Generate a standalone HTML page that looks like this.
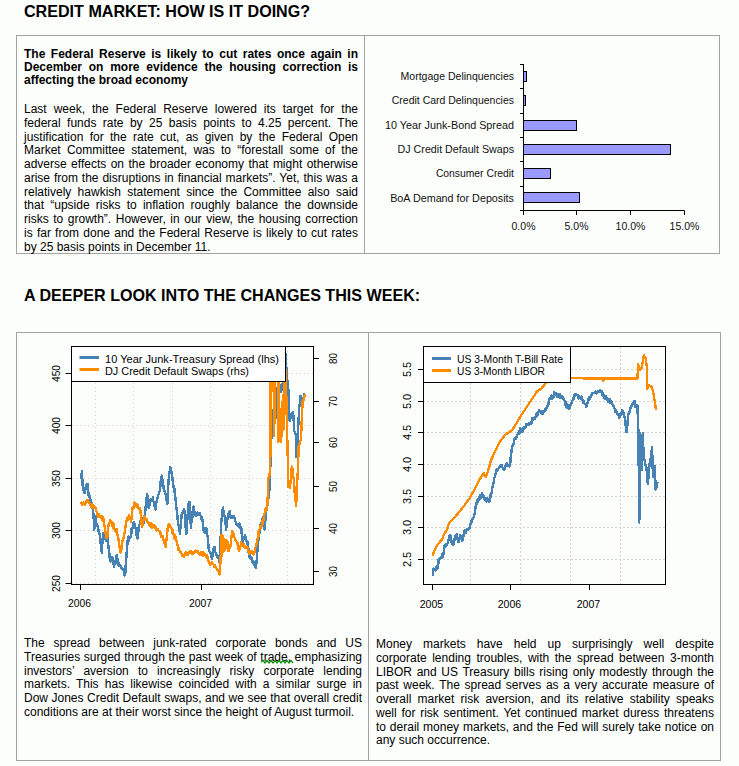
<!DOCTYPE html>
<html><head><meta charset="utf-8">
<style>
html,body{margin:0;padding:0;}
body{width:739px;height:766px;background:#fcfefc;position:relative;overflow:hidden;font-family:"Liberation Sans",sans-serif;color:#000;}
.abs{position:absolute;}
.h1{position:absolute;font-weight:bold;font-size:16.1px;white-space:nowrap;line-height:20px;}
.box{position:absolute;border:1px solid #a3a3a3;box-sizing:border-box;}
.vl{position:absolute;width:1px;background:#a3a3a3;}
.para{position:absolute;font-size:12px;}
.para div{height:13.75px;line-height:13.75px;text-align:justify;text-align-last:justify;white-space:nowrap;}
.para div.last{text-align-last:left;}
.bold div{font-weight:bold;height:13.3px;line-height:13.3px;}
svg text{font-family:"Liberation Sans",sans-serif;}
</style></head><body>
<div class="h1" style="left:24px;top:1px;">CREDIT MARKET: HOW IS IT DOING?</div>
<div class="box" style="left:16px;top:35px;width:704px;height:219px;"></div>
<div class="vl" style="left:364px;top:35px;height:219px;"></div>

<div class="para bold" style="left:24px;top:47.5px;width:334px;">
<div>The Federal Reserve is likely to cut rates once again in</div>
<div>December on more evidence the housing correction is</div>
<div class="last">affecting the broad economy</div>
</div>

<div class="para" style="left:24px;top:103px;width:334px;">
<div>Last week, the Federal Reserve lowered its target for the</div>
<div>federal funds rate by 25 basis points to 4.25 percent. The</div>
<div>justification for the rate cut, as given by the Federal Open</div>
<div>Market Committee statement, was to “forestall some of the</div>
<div>adverse effects on the broader economy that might otherwise</div>
<div>arise from the disruptions in financial markets”. Yet, this was a</div>
<div>relatively hawkish statement since the Committee also said</div>
<div>that “upside risks to inflation roughly balance the downside</div>
<div>risks to growth”. However, in our view, the housing correction</div>
<div>is far from done and the Federal Reserve is likely to cut rates</div>
<div class="last">by 25 basis points in December 11.</div>
</div>

<div class="h1" style="left:24px;top:285px;">A DEEPER LOOK INTO THE CHANGES THIS WEEK:</div>
<div class="box" style="left:16px;top:332px;width:705px;height:429px;"></div>
<div class="vl" style="left:368px;top:332px;height:429px;"></div>

<div class="para" style="left:24px;top:637px;width:338px;">
<div>The spread between junk-rated corporate bonds and US</div>
<div>Treasuries surged through the past week of trade, emphasizing</div>
<div>investors’ aversion to increasingly risky corporate lending</div>
<div>markets. This has likewise coincided with a similar surge in</div>
<div>Dow Jones Credit Default swaps, and we see that overall credit</div>
<div class="last">conditions are at their worst since the height of August turmoil.</div>
</div>

<div class="para" style="left:376px;top:638px;width:338px;">
<div>Money markets have held up surprisingly well despite</div>
<div>corporate lending troubles, with the spread between 3-month</div>
<div>LIBOR and US Treasury bills rising only modestly through the</div>
<div>past week. The spread serves as a very accurate measure of</div>
<div>overall market risk aversion, and its relative stability speaks</div>
<div>well for risk sentiment. Yet continued market duress threatens</div>
<div>to derail money markets, and the Fed will surely take notice on</div>
<div class="last">any such occurrence.</div>
</div>

<svg class="abs" style="left:0;top:0" width="739" height="766" viewBox="0 0 739 766">
<rect x="523.5" y="71.5" width="3.0" height="10" fill="#9999ff" stroke="#000" stroke-width="1"/>
<rect x="523.5" y="95.5" width="2.0" height="10" fill="#9999ff" stroke="#000" stroke-width="1"/>
<rect x="523.5" y="120.5" width="53.0" height="10" fill="#9999ff" stroke="#000" stroke-width="1"/>
<rect x="523.5" y="144.5" width="147.0" height="10" fill="#9999ff" stroke="#000" stroke-width="1"/>
<rect x="523.5" y="168.5" width="27.0" height="10" fill="#9999ff" stroke="#000" stroke-width="1"/>
<rect x="523.5" y="192.5" width="56.0" height="10" fill="#9999ff" stroke="#000" stroke-width="1"/>
<text x="400.6" y="79.8" font-size="10.5" fill="#111" textLength="113.4" lengthAdjust="spacingAndGlyphs">Mortgage Delinquencies</text>
<text x="391.8" y="104.2" font-size="10.5" fill="#111" textLength="122.2" lengthAdjust="spacingAndGlyphs">Credit Card Delinquencies</text>
<text x="384.9" y="128.6" font-size="10.5" fill="#111" textLength="129.1" lengthAdjust="spacingAndGlyphs">10 Year Junk-Bond Spread</text>
<text x="397.6" y="153.0" font-size="10.5" fill="#111" textLength="116.4" lengthAdjust="spacingAndGlyphs">DJ Credit Default Swaps</text>
<text x="435.9" y="177.4" font-size="10.5" fill="#111" textLength="78.1" lengthAdjust="spacingAndGlyphs">Consumer Credit</text>
<text x="390.2" y="201.8" font-size="10.5" fill="#111" textLength="123.8" lengthAdjust="spacingAndGlyphs">BoA Demand for Deposits</text>
<path d="M523.5 64 V210.5 H684.5" fill="none" stroke="#000" stroke-width="1"/>
<path d="M520 64.5 H523.5" stroke="#000" stroke-width="1"/>
<path d="M520 88.5 H523.5" stroke="#000" stroke-width="1"/>
<path d="M520 113.5 H523.5" stroke="#000" stroke-width="1"/>
<path d="M520 137.5 H523.5" stroke="#000" stroke-width="1"/>
<path d="M520 161.5 H523.5" stroke="#000" stroke-width="1"/>
<path d="M520 186.5 H523.5" stroke="#000" stroke-width="1"/>
<path d="M520 210.5 H523.5" stroke="#000" stroke-width="1"/>
<path d="M523.5 210.5 V215" stroke="#000" stroke-width="1"/>
<text x="523.5" y="229.5" font-size="10.5" text-anchor="middle" fill="#111">0.0%</text>
<path d="M576.5 210.5 V215" stroke="#000" stroke-width="1"/>
<text x="576.5" y="229.5" font-size="10.5" text-anchor="middle" fill="#111">5.0%</text>
<path d="M630.5 210.5 V215" stroke="#000" stroke-width="1"/>
<text x="630.5" y="229.5" font-size="10.5" text-anchor="middle" fill="#111">10.0%</text>
<path d="M684.5 210.5 V215" stroke="#000" stroke-width="1"/>
<text x="684.5" y="229.5" font-size="10.5" text-anchor="middle" fill="#111">15.0%</text>
<path d="M95.5 347 V584" stroke="#d3d3d3" stroke-width="1" stroke-dasharray="1,3"/>
<path d="M133.5 347 V584" stroke="#d3d3d3" stroke-width="1" stroke-dasharray="1,3"/>
<path d="M172.5 347 V584" stroke="#d3d3d3" stroke-width="1" stroke-dasharray="1,3"/>
<path d="M210.5 347 V584" stroke="#d3d3d3" stroke-width="1" stroke-dasharray="1,3"/>
<path d="M249.5 347 V584" stroke="#d3d3d3" stroke-width="1" stroke-dasharray="1,3"/>
<path d="M287.5 347 V584" stroke="#d3d3d3" stroke-width="1" stroke-dasharray="1,3"/>
<path d="M72 373.5 H313" stroke="#d3d3d3" stroke-width="1" stroke-dasharray="1,3"/>
<path d="M72 425.5 H313" stroke="#d3d3d3" stroke-width="1" stroke-dasharray="1,3"/>
<path d="M72 478.5 H313" stroke="#d3d3d3" stroke-width="1" stroke-dasharray="1,3"/>
<path d="M72 530.5 H313" stroke="#d3d3d3" stroke-width="1" stroke-dasharray="1,3"/>
<path d="M72 583.5 H313" stroke="#d3d3d3" stroke-width="1" stroke-dasharray="1,3"/>
<polyline points="80.9,478.8 81.4,476.2 81.9,471.1 82.3,479.1 82.8,487.3 83.4,487.6 83.9,492.2 84.5,493.2 85.1,491.1 85.6,488.9 86.2,487.3 86.6,484.7 87.1,485.2 87.5,483.9 88.1,489.7 88.7,495.7 89.3,497.4 89.8,496.2 90.4,500.0 90.9,500.2 91.4,502.7 92.0,507.9 92.5,504.7 93.0,506.0 93.4,514.8 93.9,521.7 94.3,529.7 94.9,521.5 95.5,516.0 95.9,521.9 96.3,522.9 96.9,525.8 97.4,525.5 98.0,528.0 98.6,531.1 99.1,532.7 99.7,534.8 100.2,538.8 100.8,544.4 101.3,548.8 101.8,552.6 102.2,545.3 102.7,538.2 103.1,533.0 103.6,535.4 104.1,536.7 104.7,537.4 105.2,539.5 105.7,539.9 106.3,540.7 106.8,536.8 107.4,534.8 107.9,540.1 108.4,546.0 108.9,550.3 109.4,554.1 109.9,560.3 110.4,561.4 110.9,558.0 111.4,559.3 111.9,559.0 112.4,556.9 113.0,560.6 113.5,564.3 114.1,567.0 114.6,561.6 115.1,563.3 115.7,562.9 116.2,558.9 116.7,555.2 117.2,557.4 117.7,561.3 118.2,561.2 118.7,565.8 119.2,565.4 119.7,565.0 120.2,565.6 120.7,566.2 121.1,568.1 121.6,567.4 122.1,569.3 122.6,568.8 123.1,569.4 123.6,570.9 124.2,570.6 124.7,575.6 125.2,574.7 125.7,564.9 126.3,558.5 126.8,550.1 127.4,544.6 127.9,537.9 128.5,536.5 129.0,541.0 129.5,538.0 130.1,537.2 130.6,536.3 131.1,536.5 131.7,528.1 132.2,528.7 132.7,528.2 133.2,523.5 133.7,522.0 134.2,523.0 134.8,524.4 135.3,526.6 135.9,529.8 136.5,533.5 137.0,538.1 137.6,538.3 138.2,533.6 138.7,527.5 139.3,524.7 139.8,523.7 140.3,521.0 140.9,520.7 141.4,518.8 141.9,517.9 142.5,519.6 143.0,521.5 143.6,523.0 144.2,519.8 144.7,516.7 145.3,511.1 145.8,504.5 146.4,501.5 146.9,494.1 147.5,495.9 148.0,504.1 148.6,507.7 149.1,507.7 149.6,502.8 150.2,502.9 150.7,499.2 151.2,500.9 151.8,500.1 152.3,498.9 152.9,497.5 153.4,501.3 153.9,502.1 154.4,504.9 154.9,507.2 155.4,509.4 156.0,504.4 156.5,501.8 157.1,499.2 157.6,498.0 158.1,495.0 158.7,494.4 159.2,492.7 159.7,490.7 160.2,488.1 160.8,480.0 161.3,479.0 161.9,475.5 162.4,479.4 162.9,482.9 163.4,486.1 163.9,490.7 164.5,490.3 165.0,491.3 165.6,494.1 166.2,498.0 166.7,500.6 167.3,504.3 167.9,495.7 168.4,483.1 169.0,475.5 169.6,472.4 170.2,467.0 170.8,469.0 171.3,471.4 171.8,474.2 172.4,477.2 172.9,482.9 173.4,486.7 173.9,485.6 174.4,489.0 174.9,494.8 175.5,498.3 176.1,505.5 176.6,509.4 177.2,514.2 177.7,519.6 178.3,524.7 178.9,527.0 179.4,529.7 180.0,534.0 180.6,525.4 181.1,520.8 181.7,514.5 182.2,513.3 182.7,512.7 183.2,513.0 183.7,509.9 184.2,509.4 184.7,514.2 185.2,521.2 185.8,529.0 186.3,534.0 186.9,528.1 187.4,518.8 187.9,510.9 188.5,504.3 189.0,502.7 189.5,501.8 190.0,510.1 190.4,517.1 190.9,527.6 191.4,522.3 191.8,519.3 192.3,518.4 192.7,510.8 193.2,507.6 193.7,506.7 194.2,509.8 194.6,512.7 195.1,514.9 195.6,515.9 196.1,515.6 196.5,515.6 197.0,513.7 197.4,512.4 197.9,512.9 198.4,514.3 198.9,513.6 199.3,514.8 199.8,513.0 200.3,514.7 200.8,516.4 201.2,518.8 201.7,517.2 202.1,518.2 202.6,520.6 203.2,526.4 203.8,531.1 204.3,529.2 204.7,532.4 205.2,529.9 205.6,532.9 206.1,527.6 206.6,529.9 207.0,532.9 207.4,535.3 207.9,537.0 208.5,547.6 209.1,550.3 209.6,551.6 210.2,552.3 210.6,553.9 211.1,553.6 211.6,557.5 212.0,559.3 212.4,556.7 212.9,553.7 213.4,549.0 213.8,547.6 214.3,551.1 214.7,547.1 215.2,552.3 215.6,552.9 216.1,554.6 216.6,554.5 217.0,557.1 217.4,555.0 217.9,557.0 218.5,558.2 219.0,558.5 219.6,562.9 220.1,552.6 220.5,542.5 220.9,530.9 221.4,520.6 222.0,515.5 222.5,509.5 223.1,507.6 223.6,512.6 224.0,512.6 224.4,515.4 224.9,518.2 225.5,521.8 226.1,530.0 226.7,524.0 227.2,520.6 227.8,517.0 228.2,515.1 228.7,513.3 229.2,513.9 229.6,511.2 230.1,513.3 230.5,517.8 230.9,515.9 231.4,518.2 232.0,516.2 232.5,516.4 233.1,515.9 233.6,517.0 234.1,516.6 234.5,518.0 235.0,520.5 235.5,521.7 236.1,522.5 236.6,524.5 237.2,525.3 237.7,524.6 238.2,526.4 238.6,524.2 239.1,524.0 239.6,523.5 240.2,527.7 240.7,527.1 241.3,527.6 241.9,536.0 242.5,542.9 243.0,539.6 243.5,539.4 244.1,537.5 244.6,537.4 245.1,535.0 245.6,536.8 246.1,539.1 246.6,541.7 247.2,544.1 247.7,542.0 248.2,546.0 248.6,551.1 249.1,557.0 249.6,557.4 250.2,555.0 250.7,558.1 251.2,558.9 251.7,558.2 252.3,562.5 252.8,560.7 253.3,561.1 253.7,562.7 254.2,562.0 254.7,565.5 255.2,564.9 255.6,567.2 256.1,568.0 256.5,560.3 257.0,559.0 257.4,549.7 257.9,545.7 258.5,539.2 259.0,535.9 259.6,533.0 260.1,527.8 260.6,524.8 261.2,523.4 261.7,524.8 262.3,521.3 262.8,516.8 263.3,521.4 263.8,522.8 264.2,526.0 264.7,529.6 265.1,522.8 265.6,519.0 266.1,513.5 266.5,509.5 267.0,507.1 267.6,503.9 268.1,501.3 268.7,496.0 269.2,494.8 269.6,483.0 270.1,472.9 270.7,455.3 271.3,440.0 271.8,419.9 272.4,416.7 272.9,410.5 273.4,414.1 273.9,419.9 274.4,418.1 274.9,418.5 275.5,418.2 276.0,417.2 276.5,417.8 277.1,403.1 277.6,387.5 278.1,384.7 278.6,385.8 279.2,385.9 279.7,384.4 280.2,387.3 280.7,388.8 281.2,391.7 281.7,389.8 282.3,384.7 282.8,382.3 283.3,381.3 283.8,381.4 284.4,378.3 284.9,379.0 285.4,376.0 285.9,376.0 286.0,354.0 286.5,374.0 287.0,376.5 287.5,382.8 288.0,387.7 288.5,389.6 289.1,406.8 289.6,420.9 290.1,420.3 290.7,415.6 291.2,413.6 291.7,413.8 292.2,413.4 292.7,412.6 293.2,412.6 293.8,422.9 294.3,431.4 294.8,431.6 295.4,433.9 295.9,434.5 296.3,456.8 296.9,449.9 297.4,444.9 297.9,431.8 298.5,422.0 299.0,410.5 299.5,404.9 300.1,401.6 300.6,395.8 301.1,399.6 301.6,398.4 302.1,403.2 302.6,401.2 303.1,400.8 303.6,398.8 304.0,393.7 304.5,395.7 305.0,394.9" fill="none" stroke="#4682b4" stroke-width="2.4" stroke-linejoin="round" shape-rendering="crispEdges"/>
<polyline points="80.9,501.7 81.4,503.0 81.9,505.0 82.4,504.2 82.9,503.0 83.5,502.7 84.0,503.7 84.5,504.2 85.0,505.3 85.5,503.7 86.0,501.4 86.5,502.5 87.0,500.8 87.5,500.0 88.0,500.4 88.5,502.4 89.0,503.0 89.4,503.5 89.9,504.3 90.4,504.2 90.9,506.7 91.4,503.8 92.0,506.1 92.5,504.4 93.0,506.0 93.5,508.2 94.0,506.4 94.5,506.2 95.0,508.2 95.5,507.6 96.1,510.8 96.6,511.7 97.2,515.3 97.7,515.7 98.2,516.9 98.7,513.9 99.1,517.2 99.6,517.2 100.1,517.0 100.6,516.1 101.1,517.5 101.6,518.3 102.1,520.0 102.5,516.7 103.0,521.4 103.5,518.7 104.0,522.9 104.5,525.9 105.0,526.2 105.5,533.1 106.0,535.2 106.5,538.2 107.0,535.6 107.5,536.7 108.0,528.5 108.5,525.7 109.0,522.9 109.6,523.2 110.1,520.2 110.7,521.2 111.2,521.5 111.7,522.0 112.2,525.9 112.6,523.6 113.1,527.9 113.6,523.6 114.1,526.3 114.6,529.3 115.1,530.7 115.6,529.1 116.0,531.6 116.5,529.0 117.0,535.0 117.5,534.8 118.0,535.4 118.5,539.3 119.0,544.1 119.4,545.0 119.9,548.9 120.4,552.6 120.9,548.9 121.4,550.1 122.0,543.7 122.5,540.8 123.0,540.1 123.5,538.2 124.0,535.1 124.4,534.0 124.9,531.3 125.4,527.1 125.9,523.6 126.3,522.2 126.8,519.5 127.3,518.1 127.8,520.0 128.4,517.6 128.9,514.9 129.4,516.1 130.0,518.3 130.5,519.3 131.1,522.0 131.6,517.3 132.0,513.6 132.5,507.7 133.0,508.2 133.5,506.6 134.1,508.0 134.6,502.3 135.1,503.5 135.6,504.0 136.1,505.9 136.6,506.5 137.1,503.6 137.6,506.0 138.1,505.0 138.6,509.0 139.2,507.8 139.7,508.2 140.2,509.4 140.8,514.1 141.3,521.3 141.9,527.2 142.4,525.4 142.9,523.2 143.4,519.6 143.9,520.0 144.4,516.2 144.9,518.5 145.4,519.6 145.9,520.2 146.4,518.8 146.9,521.3 147.4,522.7 147.9,522.6 148.4,522.0 148.8,523.5 149.3,524.7 149.8,525.8 150.3,524.7 150.8,526.4 151.3,523.0 151.7,525.6 152.2,527.7 152.7,526.2 153.2,525.4 153.6,526.1 154.1,525.5 154.6,525.5 155.1,527.4 155.6,528.4 156.1,526.7 156.6,530.5 157.1,529.8 157.6,529.3 158.1,529.7 158.6,530.4 159.0,530.8 159.5,530.9 160.0,533.5 160.5,533.2 161.0,532.7 161.5,537.1 162.1,535.7 162.6,536.1 163.1,538.3 163.6,540.6 164.1,541.9 164.6,543.8 165.1,545.3 165.6,546.8 166.1,540.1 166.6,540.0 167.1,533.0 167.6,529.4 168.1,524.7 168.6,525.3 169.1,524.3 169.7,525.1 170.2,526.4 170.7,527.2 171.2,527.8 171.7,528.5 172.2,533.3 172.6,530.0 173.1,531.6 173.6,534.7 174.1,534.9 174.6,538.9 175.1,534.8 175.6,538.4 176.0,540.8 176.5,541.0 177.0,542.5 177.5,545.1 178.0,547.6 178.5,549.9 179.0,548.5 179.5,550.5 180.0,551.9 180.5,551.4 181.0,552.5 181.5,553.3 181.9,555.4 182.4,556.1 182.9,555.5 183.4,556.1 183.9,556.5 184.4,556.1 184.9,554.2 185.3,553.2 185.8,555.3 186.3,551.9 186.8,552.7 187.3,553.5 187.8,555.0 188.3,552.6 188.8,553.0 189.3,553.1 189.8,551.0 190.3,551.1 190.8,550.8 191.3,553.5 191.8,552.2 192.2,554.2 192.7,553.0 193.2,554.0 193.7,552.1 194.2,552.2 194.7,551.2 195.2,552.1 195.7,550.7 196.2,551.4 196.7,551.1 197.2,552.3 197.7,550.9 198.2,552.2 198.8,554.0 199.3,553.2 199.8,554.3 200.3,554.6 200.8,552.1 201.3,552.7 201.8,554.9 202.4,555.0 202.9,556.0 203.4,552.0 203.9,555.5 204.4,554.0 204.9,553.6 205.4,554.5 205.9,556.5 206.3,555.7 206.8,555.2 207.3,555.8 207.9,560.1 208.5,561.7 209.0,561.1 209.4,563.2 209.9,565.0 210.3,564.0 210.8,562.9 211.3,562.6 211.8,564.1 212.2,562.5 212.7,564.0 213.2,564.0 213.7,565.0 214.1,566.7 214.6,566.8 215.0,564.8 215.5,567.6 216.0,567.1 216.5,568.4 216.9,569.5 217.4,569.7 217.9,569.9 218.5,570.9 219.0,572.6 219.6,574.6 220.2,565.7 220.8,554.6 221.5,535.0 222.1,556.0 222.7,536.0 223.3,552.0 223.9,539.0 224.5,550.0 225.1,541.0 225.7,548.0 226.3,540.0 227.0,547.0 227.6,542.0 228.3,551.0 229.0,551.1 229.4,548.2 229.9,546.1 230.4,546.2 230.8,542.9 231.4,537.5 231.9,534.4 232.5,531.1 232.9,533.4 233.4,533.2 233.9,535.9 234.3,537.0 234.8,538.1 235.2,539.5 235.7,540.3 236.1,540.6 236.6,541.7 237.1,543.6 237.6,542.8 238.0,548.4 238.5,549.0 239.0,551.1 239.6,548.3 240.1,545.9 240.7,545.2 241.2,542.2 241.7,545.1 242.2,545.9 242.7,544.2 243.2,544.0 243.8,543.7 244.3,546.5 244.8,547.6 245.3,546.1 245.9,547.6 246.4,547.9 246.9,547.0 247.4,547.7 247.9,550.0 248.5,551.0 249.0,553.6 249.5,552.6 250.0,551.5 250.5,552.4 251.1,553.1 251.6,552.5 252.1,551.6 252.6,554.1 253.2,553.4 253.7,554.3 254.2,552.0 254.8,551.8 255.3,548.0 255.9,546.8 256.4,544.2 256.9,542.3 257.3,539.9 257.8,537.8 258.3,537.0 258.7,531.2 259.2,529.6 259.7,529.5 260.3,525.7 260.8,528.4 261.4,526.8 261.9,525.9 262.4,524.6 262.8,518.9 263.3,520.6 263.8,518.2 264.2,513.9 264.7,513.1 265.2,511.1 265.8,507.8 266.3,510.5 266.9,506.1 267.4,504.0 267.9,493.9 268.3,478.4 268.8,477.4 269.2,476.3 269.7,472.8 270.1,471.1 270.6,376.0 271.0,456.0 271.4,376.0 271.9,376.6 272.4,375.1 272.8,373.4 273.3,375.9 273.8,376.0 274.2,436.0 274.8,376.0 275.3,373.7 275.8,377.1 276.4,375.3 276.9,375.4 277.4,374.2 277.9,376.0 278.4,442.0 279.0,380.0 279.6,440.0 280.0,425.7 280.4,410.0 281.0,442.0 281.6,408.0 282.2,436.0 282.8,395.0 283.4,430.0 284.0,375.0 284.6,384.1 285.2,395.0 285.9,370.0 286.5,407.3 287.0,426.1 287.5,447.7 288.0,466.8 288.5,487.0 289.0,486.4 289.6,487.8 290.1,486.6 290.7,480.4 291.2,475.2 291.8,466.5 292.4,468.0 292.9,473.5 293.4,477.5 294.0,480.3 294.5,489.5 295.0,499.0 295.6,500.7 296.1,505.5 296.6,496.9 297.0,487.7 297.4,478.4 297.9,469.3 298.3,457.6 298.7,445.8 299.2,445.7 299.6,443.7 300.1,442.4 300.5,440.4 301.0,439.6 301.5,426.2 302.1,411.5 302.6,402.0 303.1,400.1 303.6,400.7 304.0,397.0 304.5,396.1 305.0,394.0" fill="none" stroke="#ff8c00" stroke-width="2.4" stroke-linejoin="round" shape-rendering="crispEdges"/>
<rect x="71.5" y="346.5" width="214" height="35" fill="#fff" stroke="#000" stroke-width="1"/>
<path d="M79.5 357.5 H99" stroke="#4682b4" stroke-width="3"/>
<path d="M79.5 369.5 H99" stroke="#ff8c00" stroke-width="3"/>
<text x="105" y="363" font-size="11" textLength="174" lengthAdjust="spacingAndGlyphs">10 Year Junk-Treasury Spread (lhs)</text>
<text x="105" y="375" font-size="11" textLength="144" lengthAdjust="spacingAndGlyphs">DJ Credit Default Swaps (rhs)</text>
<rect x="71.5" y="346.5" width="242" height="238" fill="none" stroke="#000" stroke-width="1"/>
<path d="M65.5 373.5 H71.5" stroke="#000" stroke-width="1"/>
<text transform="translate(59.5 373.5) rotate(-90)" font-size="11" text-anchor="middle" textLength="17" lengthAdjust="spacingAndGlyphs">450</text>
<path d="M65.5 425.5 H71.5" stroke="#000" stroke-width="1"/>
<text transform="translate(59.5 425.5) rotate(-90)" font-size="11" text-anchor="middle" textLength="17" lengthAdjust="spacingAndGlyphs">400</text>
<path d="M65.5 478.5 H71.5" stroke="#000" stroke-width="1"/>
<text transform="translate(59.5 478.5) rotate(-90)" font-size="11" text-anchor="middle" textLength="17" lengthAdjust="spacingAndGlyphs">350</text>
<path d="M65.5 530.5 H71.5" stroke="#000" stroke-width="1"/>
<text transform="translate(59.5 530.5) rotate(-90)" font-size="11" text-anchor="middle" textLength="17" lengthAdjust="spacingAndGlyphs">300</text>
<path d="M65.5 583.5 H71.5" stroke="#000" stroke-width="1"/>
<text transform="translate(59.5 583.5) rotate(-90)" font-size="11" text-anchor="middle" textLength="17" lengthAdjust="spacingAndGlyphs">250</text>
<path d="M313.5 358.5 H319" stroke="#000" stroke-width="1"/>
<text transform="translate(337 358.5) rotate(-90)" font-size="11" text-anchor="middle" textLength="11" lengthAdjust="spacingAndGlyphs">80</text>
<path d="M313.5 401.5 H319" stroke="#000" stroke-width="1"/>
<text transform="translate(337 401.5) rotate(-90)" font-size="11" text-anchor="middle" textLength="11" lengthAdjust="spacingAndGlyphs">70</text>
<path d="M313.5 442.5 H319" stroke="#000" stroke-width="1"/>
<text transform="translate(337 442.5) rotate(-90)" font-size="11" text-anchor="middle" textLength="11" lengthAdjust="spacingAndGlyphs">60</text>
<path d="M313.5 486.5 H319" stroke="#000" stroke-width="1"/>
<text transform="translate(337 486.5) rotate(-90)" font-size="11" text-anchor="middle" textLength="11" lengthAdjust="spacingAndGlyphs">50</text>
<path d="M313.5 528.5 H319" stroke="#000" stroke-width="1"/>
<text transform="translate(337 528.5) rotate(-90)" font-size="11" text-anchor="middle" textLength="11" lengthAdjust="spacingAndGlyphs">40</text>
<path d="M313.5 571.5 H319" stroke="#000" stroke-width="1"/>
<text transform="translate(337 571.5) rotate(-90)" font-size="11" text-anchor="middle" textLength="11" lengthAdjust="spacingAndGlyphs">30</text>
<path d="M80.5 584.5 V590" stroke="#000" stroke-width="1"/>
<text x="79.5" y="607" font-size="11" text-anchor="middle" textLength="23" lengthAdjust="spacingAndGlyphs">2006</text>
<path d="M201.5 584.5 V590" stroke="#000" stroke-width="1"/>
<text x="200.5" y="607" font-size="11" text-anchor="middle" textLength="23" lengthAdjust="spacingAndGlyphs">2007</text>
<path d="M470.5 347 V584" stroke="#d3d3d3" stroke-width="1" stroke-dasharray="2,2"/>
<path d="M520.5 347 V584" stroke="#d3d3d3" stroke-width="1" stroke-dasharray="2,2"/>
<path d="M570.5 347 V584" stroke="#d3d3d3" stroke-width="1" stroke-dasharray="2,2"/>
<path d="M620.5 347 V584" stroke="#d3d3d3" stroke-width="1" stroke-dasharray="2,2"/>
<path d="M423 369.5 H665" stroke="#d3d3d3" stroke-width="1" stroke-dasharray="2,2"/>
<path d="M423 401.5 H665" stroke="#d3d3d3" stroke-width="1" stroke-dasharray="2,2"/>
<path d="M423 432.5 H665" stroke="#d3d3d3" stroke-width="1" stroke-dasharray="2,2"/>
<path d="M423 464.5 H665" stroke="#d3d3d3" stroke-width="1" stroke-dasharray="2,2"/>
<path d="M423 496.5 H665" stroke="#d3d3d3" stroke-width="1" stroke-dasharray="2,2"/>
<path d="M423 527.5 H665" stroke="#d3d3d3" stroke-width="1" stroke-dasharray="2,2"/>
<path d="M423 559.5 H665" stroke="#d3d3d3" stroke-width="1" stroke-dasharray="2,2"/>
<polyline points="433.2,576.3 433.2,569.8 433.7,568.7 434.2,569.2 434.6,568.9 435.1,570.4 435.6,569.8 436.1,567.1 436.5,569.5 437.0,568.4 437.5,568.1 437.9,562.5 438.4,559.8 438.9,563.0 439.4,559.3 439.9,559.2 440.4,558.2 440.9,558.4 441.4,558.0 441.9,554.2 442.5,557.6 443.0,554.7 443.5,552.2 444.0,553.5 444.0,546.2 444.5,547.4 445.0,545.5 445.4,546.7 445.9,543.9 446.4,544.6 446.9,545.2 447.5,543.2 448.0,542.5 448.5,539.8 449.0,538.5 449.6,535.0 450.1,536.9 450.6,536.0 451.0,541.0 451.5,542.7 452.0,540.8 452.4,544.4 452.9,545.0 453.4,543.9 454.0,543.6 454.5,538.8 455.0,537.9 455.5,535.9 456.1,537.3 456.6,534.1 457.1,536.8 457.6,538.8 458.1,541.9 458.6,542.2 459.1,541.1 459.7,537.7 460.2,534.9 460.7,537.1 461.2,538.5 461.7,539.0 462.2,540.6 462.7,540.1 463.2,537.2 463.8,533.7 464.3,531.4 464.8,530.0 465.3,530.8 465.7,532.7 466.2,531.1 466.7,529.4 467.2,529.0 467.6,529.1 468.1,529.6 468.6,529.3 469.2,528.0 469.7,527.9 470.2,525.6 470.8,522.8 471.3,521.2 471.9,521.6 472.4,518.9 472.9,518.7 473.5,517.8 474.0,516.3 474.6,514.3 475.1,510.5 475.6,506.7 476.2,503.3 476.7,503.8 477.3,502.8 477.8,498.8 478.3,501.4 478.9,497.2 479.4,496.8 479.9,495.3 480.3,498.4 480.8,496.8 481.3,498.2 481.8,494.5 482.2,493.2 482.7,495.7 483.2,495.0 483.8,496.1 484.3,499.4 484.8,500.0 485.4,498.0 485.9,497.9 486.4,501.6 487.0,497.9 487.6,498.9 488.1,499.4 488.6,500.6 489.2,502.2 489.7,500.6 490.2,498.4 490.8,493.1 491.3,492.5 491.8,492.6 492.2,488.1 492.7,486.0 493.2,484.8 493.7,481.8 494.1,478.0 494.6,477.3 495.1,475.8 495.7,473.4 496.2,473.1 496.7,468.8 497.3,470.8 497.8,468.7 498.3,468.7 498.7,468.0 499.2,467.8 499.7,465.9 500.2,465.8 500.6,467.0 501.1,465.4 501.6,465.0 502.2,467.1 502.7,467.5 503.2,468.7 503.8,468.4 504.3,469.7 504.9,469.2 505.4,466.5 505.9,463.9 506.5,464.3 507.0,463.5 507.6,465.1 508.1,465.8 508.6,465.3 509.2,464.8 509.7,466.5 510.2,464.0 510.8,456.1 511.3,453.3 511.9,447.6 512.5,445.4 513.0,445.7 513.5,444.3 514.1,441.1 514.6,438.9 515.1,438.2 515.5,438.0 516.0,439.0 516.5,436.3 517.0,437.2 517.4,434.8 517.9,433.0 518.4,433.5 518.9,434.0 519.5,432.9 520.0,427.6 520.5,429.4 521.1,430.3 521.6,429.2 522.1,432.1 522.5,429.4 523.0,431.2 523.5,427.7 524.0,428.5 524.4,427.9 524.9,427.0 525.4,427.7 525.9,426.8 526.3,423.8 526.8,424.9 527.3,424.7 527.8,423.8 528.2,424.6 528.7,422.8 529.2,424.8 529.7,422.9 530.2,422.7 530.7,423.5 531.2,422.1 531.6,423.5 532.1,418.5 532.6,419.7 533.1,419.6 533.6,419.4 534.1,418.6 534.6,418.8 535.0,417.0 535.5,417.2 536.0,415.9 536.5,414.2 536.9,413.4 537.4,415.6 537.9,414.0 538.5,411.8 539.0,409.7 539.5,411.9 540.0,411.9 540.6,410.8 541.1,412.9 541.6,412.6 542.0,411.2 542.5,414.1 543.0,412.3 543.5,411.6 543.9,412.0 544.4,411.9 545.0,409.4 545.5,410.4 546.0,407.9 546.6,408.6 547.1,406.2 547.7,406.5 548.2,403.4 548.7,403.7 549.3,398.5 549.8,398.9 550.3,398.0 550.9,397.8 551.4,395.7 551.9,398.7 552.5,396.0 553.0,396.7 553.5,397.3 554.1,392.4 554.6,394.4 555.1,394.8 555.5,393.5 556.0,394.7 556.5,395.1 557.0,393.6 557.4,397.1 557.9,396.0 558.4,395.7 559.0,394.2 559.5,393.8 560.0,397.5 560.6,398.2 561.1,396.0 561.6,396.1 562.0,397.1 562.5,398.3 563.0,396.6 563.5,399.0 563.9,400.2 564.4,400.1 564.9,402.1 565.4,403.6 565.8,406.5 566.3,402.6 566.8,407.4 567.3,406.7 567.8,407.6 568.2,407.2 568.7,405.6 569.2,409.0 569.7,407.3 570.1,405.7 570.6,405.0 571.1,403.5 571.6,402.5 572.0,403.2 572.5,400.1 573.0,400.1 573.5,399.2 573.9,396.2 574.4,394.9 574.9,394.4 575.4,395.6 575.8,394.1 576.3,395.0 576.8,394.6 577.3,394.9 577.7,395.3 578.2,396.0 578.7,398.4 579.2,395.7 579.7,397.1 580.2,397.0 580.7,399.2 581.2,398.5 581.7,396.5 582.2,398.5 582.7,401.2 583.2,402.6 583.7,401.1 584.2,402.7 584.8,404.0 585.3,404.2 585.8,404.4 586.3,406.6 586.8,404.2 587.4,403.6 587.9,401.1 588.4,400.5 589.0,396.6 589.5,398.5 590.0,398.5 590.5,396.8 591.0,395.9 591.5,395.4 592.1,393.2 592.6,393.2 593.1,393.0 593.6,392.8 594.1,393.0 594.6,392.1 595.1,392.7 595.6,391.6 596.0,391.6 596.5,393.4 597.0,393.2 597.5,391.8 598.0,391.5 598.5,391.6 599.0,391.5 599.6,390.1 600.1,392.0 600.6,391.0 601.2,391.7 601.7,391.2 602.2,392.2 602.7,395.7 603.1,393.2 603.6,395.0 604.1,396.0 604.6,398.8 605.1,398.5 605.6,395.8 606.1,398.5 606.6,399.3 607.1,398.5 607.6,399.3 608.1,401.6 608.6,401.5 609.0,401.0 609.5,399.2 610.0,398.9 610.5,403.2 611.0,403.4 611.5,401.7 612.0,402.3 612.5,404.7 613.0,404.7 613.6,406.6 614.1,406.5 614.6,409.1 615.1,409.2 615.7,412.3 616.2,410.6 616.7,411.8 617.2,413.9 617.8,415.0 618.3,413.7 618.8,414.6 619.2,418.3 619.7,417.2 620.3,414.8 620.8,414.0 621.4,414.4 621.9,410.0 622.4,412.0 622.8,411.4 623.3,412.1 623.8,415.0 624.2,416.6 624.7,417.4 625.2,421.5 625.6,425.1 626.0,429.3 626.5,432.0 627.0,426.3 627.4,425.5 627.8,418.9 628.3,414.6 628.8,413.0 629.4,412.6 629.9,409.7 630.4,408.2 630.9,408.3 631.5,406.2 632.0,403.7 632.5,404.0 633.1,402.6 633.6,402.5 634.2,401.6 634.7,400.9 635.2,404.5 635.6,407.3 636.0,406.1 636.5,407.8 637.0,405.5 637.4,405.5 637.9,419.1 638.4,431.1 638.8,475.8 639.3,522.5 639.8,476.7 640.2,432.9 640.7,439.5 641.1,451.7 641.5,460.2 642.0,469.5 642.5,452.9 642.9,432.9 643.3,446.8 643.8,458.5 644.2,460.0 644.7,460.3 645.2,463.4 645.7,465.3 646.1,465.1 646.6,469.5 647.0,474.0 647.5,480.6 647.9,484.1 648.4,478.3 648.8,471.6 649.3,467.6 649.8,462.2 650.2,462.1 650.7,458.2 651.2,453.1 651.6,450.5 652.1,447.5 652.5,462.6 653.0,476.8 653.5,474.0 653.9,473.5 654.3,470.3 654.8,465.8 655.2,477.4 655.7,489.6 656.2,488.4 656.6,487.0 657.0,484.9 657.5,482.3" fill="none" stroke="#4682b4" stroke-width="2.4" stroke-linejoin="round" shape-rendering="crispEdges"/>
<polyline points="433.2,556 433.4,552.7 437.5,544.6 442.4,538.9 444,534.1 446.8,530 449.1,522.8 454.5,517.4 460,510.9 464.3,505.5 469.7,497.9 474,490.3 479.4,479.5 483.8,473 485.9,477.3 488.1,470.8 491.3,459.5 496.8,447.6 501.1,440 505.4,434.6 511.9,430.3 516.2,423.8 520.6,416.2 524.9,409.7 529.2,403.2 533.6,396.7 536.8,391.7 541.1,388.7 544.8,384.4 548,380 552,376 560,377 569.6,377.7 583.8,377.7 584,378.5 603,378.5 603.3,380.6 605,378.5 637.4,378.5 638.2,364.4 639.9,370 641.5,368.4 643.9,355.4 645.6,357.9 646.9,367.6 647.2,388.7 648.8,385.5 651.2,386.3 652.9,390.3 654.5,400.1 656.1,409.8
" fill="none" stroke="#ff8c00" stroke-width="2.4" stroke-linejoin="round" shape-rendering="crispEdges"/>
<rect x="423.5" y="346.5" width="147" height="36" fill="#fff" stroke="#000" stroke-width="1"/>
<path d="M432 358.5 H451" stroke="#4682b4" stroke-width="3"/>
<path d="M432 370.5 H451" stroke="#ff8c00" stroke-width="3"/>
<text x="457" y="362.5" font-size="10.5" textLength="106" lengthAdjust="spacingAndGlyphs">US 3-Month T-Bill Rate</text>
<text x="457" y="374.5" font-size="10.5" textLength="88" lengthAdjust="spacingAndGlyphs">US 3-Month LIBOR</text>
<rect x="423.5" y="346.5" width="242" height="238" fill="none" stroke="#000" stroke-width="1"/>
<path d="M418 369.5 H423.5" stroke="#000" stroke-width="1"/>
<text transform="translate(411 369.5) rotate(-90)" font-size="11" text-anchor="middle" textLength="15.2" lengthAdjust="spacingAndGlyphs">5.5</text>
<path d="M418 401.5 H423.5" stroke="#000" stroke-width="1"/>
<text transform="translate(411 401.5) rotate(-90)" font-size="11" text-anchor="middle" textLength="15.2" lengthAdjust="spacingAndGlyphs">5.0</text>
<path d="M418 432.5 H423.5" stroke="#000" stroke-width="1"/>
<text transform="translate(411 432.5) rotate(-90)" font-size="11" text-anchor="middle" textLength="15.2" lengthAdjust="spacingAndGlyphs">4.5</text>
<path d="M418 464.5 H423.5" stroke="#000" stroke-width="1"/>
<text transform="translate(411 464.5) rotate(-90)" font-size="11" text-anchor="middle" textLength="15.2" lengthAdjust="spacingAndGlyphs">4.0</text>
<path d="M418 496.5 H423.5" stroke="#000" stroke-width="1"/>
<text transform="translate(411 496.5) rotate(-90)" font-size="11" text-anchor="middle" textLength="15.2" lengthAdjust="spacingAndGlyphs">3.5</text>
<path d="M418 527.5 H423.5" stroke="#000" stroke-width="1"/>
<text transform="translate(411 527.5) rotate(-90)" font-size="11" text-anchor="middle" textLength="15.2" lengthAdjust="spacingAndGlyphs">3.0</text>
<path d="M418 559.5 H423.5" stroke="#000" stroke-width="1"/>
<text transform="translate(411 559.5) rotate(-90)" font-size="11" text-anchor="middle" textLength="15.2" lengthAdjust="spacingAndGlyphs">2.5</text>
<path d="M432.5 584.5 V590" stroke="#000" stroke-width="1"/>
<text x="431.5" y="607.5" font-size="10.5" text-anchor="middle" textLength="23.5" lengthAdjust="spacingAndGlyphs">2005</text>
<path d="M510.5 584.5 V590" stroke="#000" stroke-width="1"/>
<text x="509.5" y="607.5" font-size="10.5" text-anchor="middle" textLength="23.5" lengthAdjust="spacingAndGlyphs">2006</text>
<path d="M589.5 584.5 V590" stroke="#000" stroke-width="1"/>
<text x="588.5" y="607.5" font-size="10.5" text-anchor="middle" textLength="23.5" lengthAdjust="spacingAndGlyphs">2007</text>
<path d="M261 662 L263 660.5 L265 663 L267 660.5 L269 663 L271 660.5 L273 663 L275 660.5 L277 663 L279 660.5 L281 663 L283 660.5 L285 663 L287 660.5 L289 663 L291 660.5 L293 663" fill="none" stroke="#109010" stroke-width="1.3"/>
</svg>

</body></html>
